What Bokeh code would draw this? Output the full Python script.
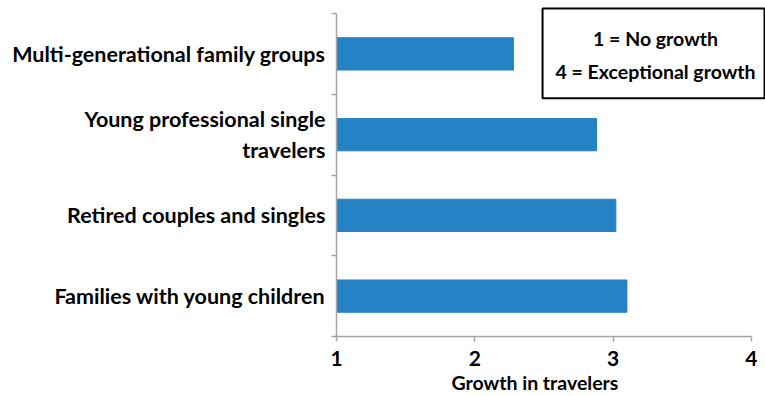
from bokeh.plotting import figure
from bokeh.models import Range1d, FixedTicker, BoxAnnotation, Label, Title
from bokeh.embed import file_html
from bokeh.resources import INLINE

# ---- data ----
categories = ["Families with young children",
              "Retired couples and singles",
              "Young professional single travelers",
              "Multi-generational family groups"]
category_labels = ["Families with young children",
                   "Retired couples and singles",
                   "Young professional single\ntravelers",
                   "Multi-generational family groups"]
values = [3.10, 3.02, 2.88, 2.28]
x_ticks = [1, 2, 3, 4]
x_title = "Growth in travelers"
key_lines = ["1 = No growth", "4 = Exceptional growth"]

FONT = "Lato"
BAR = "#2583C5"
AXIS = "#A6A6A6"

positions = [i + 0.5 for i in range(len(categories))]

p = figure(width=765, height=396, output_backend="svg", toolbar_location=None,
           x_range=Range1d(1, 4.102), y_range=Range1d(0, 4.161),
           min_border_left=336, min_border_right=0, min_border_top=0,
           min_border_bottom=60)
p.outline_line_color = None
p.grid.visible = False
p.background_fill_color = "white"
p.border_fill_color = "white"

p.hbar(y=positions, right=values, left=1, height=0.4, color=BAR)

# x axis
xa = p.xaxis[0]
xa.bounds = (1, 4)
xa.ticker = FixedTicker(ticks=x_ticks)
xa.axis_line_color = AXIS
xa.axis_line_width = 1.5
xa.major_tick_line_color = AXIS
xa.major_tick_line_width = 1.5
xa.major_tick_out = 5
xa.major_tick_in = 0
xa.minor_tick_line_color = None
xa.major_label_text_font = FONT
xa.major_label_text_font_style = "bold"
xa.major_label_text_font_size = "21px"
xa.major_label_text_color = "black"
xa.major_label_standoff = 9

# y axis
ya = p.yaxis[0]
ya.bounds = (0, 4)
ya.ticker = FixedTicker(ticks=positions, minor_ticks=list(range(len(categories) + 1)))
ya.major_label_overrides = {pos: lab for pos, lab in zip(positions, category_labels)}
ya.axis_line_color = AXIS
ya.axis_line_width = 1.5
ya.major_tick_line_color = None
ya.major_tick_out = 0
ya.major_tick_in = 0
ya.minor_tick_line_color = AXIS
ya.minor_tick_line_width = 1.5
ya.minor_tick_out = 5
ya.minor_tick_in = 0
ya.major_label_text_font = FONT
ya.major_label_text_font_style = "bold"
ya.major_label_text_font_size = "21.5px"
ya.major_label_text_color = "black"
ya.major_label_standoff = 6

# x axis title
p.add_layout(Title(text=x_title, align="left", offset=115, text_font=FONT,
                   text_font_style="bold", text_font_size="19.5px",
                   text_color="black", standoff=0), "below")

# key box
p.add_layout(BoxAnnotation(left=2.49, right=4.095, top=4.062, bottom=2.951,
                           fill_color="white", fill_alpha=1.0,
                           line_color="black", line_alpha=1.0, line_width=2))
p.add_layout(Label(x=3.307, y=3.69, text=key_lines[0], text_align="center",
                   text_baseline="middle", text_font=FONT, text_font_style="bold",
                   text_font_size="19.5px", text_color="black"))
p.add_layout(Label(x=3.307, y=3.285, text=key_lines[1], text_align="center",
                   text_baseline="middle", text_font=FONT, text_font_style="bold",
                   text_font_size="19.5px", text_color="black"))

open("out.html", "w").write(file_html(p, INLINE))
